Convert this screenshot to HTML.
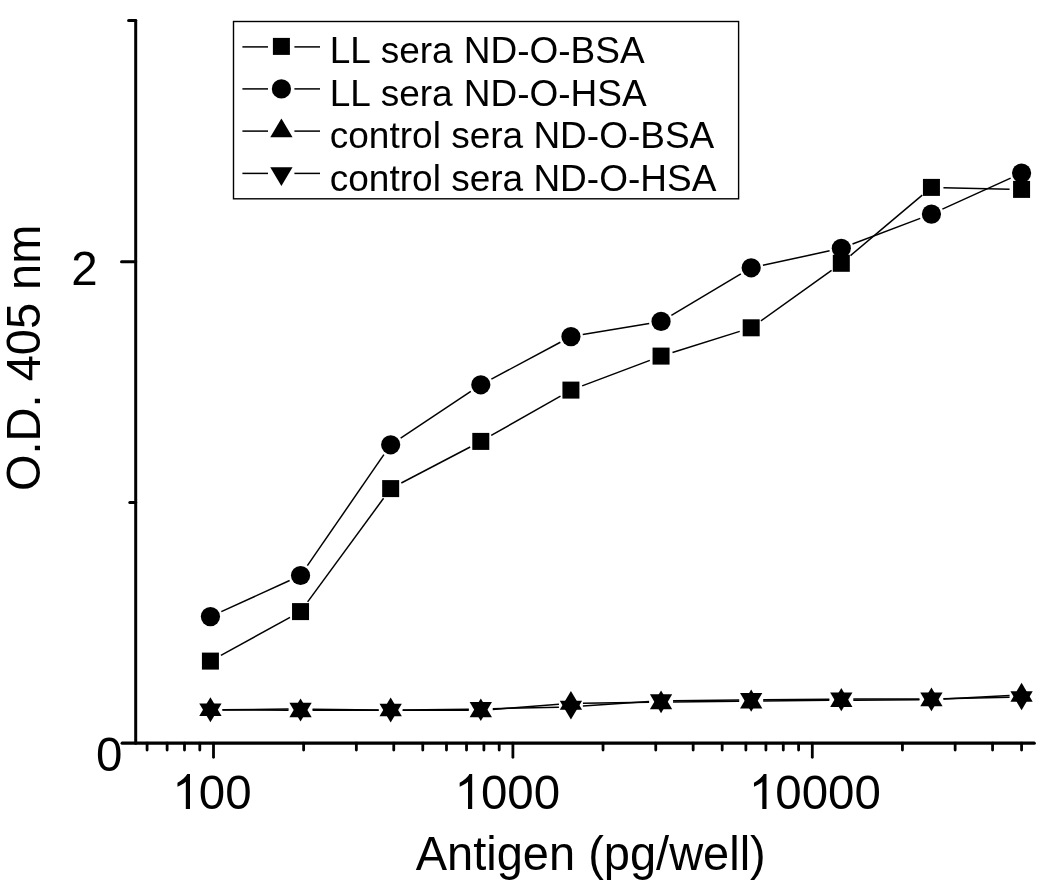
<!DOCTYPE html>
<html lang="en">
<head>
<meta charset="utf-8">
<title>ELISA O.D. 405 nm vs Antigen (pg/well)</title>
<style>
html,body{margin:0;padding:0;background:#fff;}
body{width:1050px;height:890px;overflow:hidden;font-family:"Liberation Sans",sans-serif;}
svg text{font-family:"Liberation Sans",sans-serif;}
</style>
</head>
<body>
<svg width="1050" height="890" viewBox="0 0 1050 890" style="display:block;filter:grayscale(1);font-family:'Liberation Sans',sans-serif" fill="#000">
<rect x="0" y="0" width="1050" height="890" fill="#fff"/>
<g stroke="#000" fill="none" stroke-linecap="round">
<line x1="135.7" y1="20.5" x2="135.7" y2="743.2" stroke-width="3.0"/>
<line x1="122.2" y1="743.2" x2="1034.2" y2="743.2" stroke-width="3.3"/>
<line x1="128.6" y1="20.50" x2="135.7" y2="20.50" stroke-width="3"/>
<line x1="121.5" y1="261.70" x2="135.7" y2="261.70" stroke-width="3"/>
<line x1="129.8" y1="502.60" x2="135.7" y2="502.60" stroke-width="3"/>
<line x1="147.08" y1="743.2" x2="147.08" y2="750.1" stroke-width="2.8"/>
<line x1="167.12" y1="743.2" x2="167.12" y2="750.1" stroke-width="2.8"/>
<line x1="184.49" y1="743.2" x2="184.49" y2="750.1" stroke-width="2.8"/>
<line x1="199.80" y1="743.2" x2="199.80" y2="750.1" stroke-width="2.8"/>
<line x1="303.63" y1="743.2" x2="303.63" y2="750.1" stroke-width="2.8"/>
<line x1="356.35" y1="743.2" x2="356.35" y2="750.1" stroke-width="2.8"/>
<line x1="393.76" y1="743.2" x2="393.76" y2="750.1" stroke-width="2.8"/>
<line x1="422.77" y1="743.2" x2="422.77" y2="750.1" stroke-width="2.8"/>
<line x1="446.48" y1="743.2" x2="446.48" y2="750.1" stroke-width="2.8"/>
<line x1="466.52" y1="743.2" x2="466.52" y2="750.1" stroke-width="2.8"/>
<line x1="483.89" y1="743.2" x2="483.89" y2="750.1" stroke-width="2.8"/>
<line x1="499.20" y1="743.2" x2="499.20" y2="750.1" stroke-width="2.8"/>
<line x1="603.03" y1="743.2" x2="603.03" y2="750.1" stroke-width="2.8"/>
<line x1="655.75" y1="743.2" x2="655.75" y2="750.1" stroke-width="2.8"/>
<line x1="693.16" y1="743.2" x2="693.16" y2="750.1" stroke-width="2.8"/>
<line x1="722.17" y1="743.2" x2="722.17" y2="750.1" stroke-width="2.8"/>
<line x1="745.88" y1="743.2" x2="745.88" y2="750.1" stroke-width="2.8"/>
<line x1="765.92" y1="743.2" x2="765.92" y2="750.1" stroke-width="2.8"/>
<line x1="783.29" y1="743.2" x2="783.29" y2="750.1" stroke-width="2.8"/>
<line x1="798.60" y1="743.2" x2="798.60" y2="750.1" stroke-width="2.8"/>
<line x1="902.43" y1="743.2" x2="902.43" y2="750.1" stroke-width="2.8"/>
<line x1="955.15" y1="743.2" x2="955.15" y2="750.1" stroke-width="2.8"/>
<line x1="992.56" y1="743.2" x2="992.56" y2="750.1" stroke-width="2.8"/>
<line x1="1021.57" y1="743.2" x2="1021.57" y2="750.1" stroke-width="2.8"/>
<line x1="213.50" y1="743.2" x2="213.50" y2="757.3" stroke-width="2.8"/>
<line x1="512.90" y1="743.2" x2="512.90" y2="757.3" stroke-width="2.8"/>
<line x1="812.30" y1="743.2" x2="812.30" y2="757.3" stroke-width="2.8"/>
</g>
<g stroke="#000" stroke-width="1.50" fill="none">
<line x1="220.93" y1="655.32" x2="290.03" y2="617.38"/>
<line x1="307.64" y1="601.92" x2="383.58" y2="498.28"/>
<line x1="401.30" y1="483.03" x2="470.17" y2="446.97"/>
<line x1="491.23" y1="435.46" x2="560.50" y2="396.04"/>
<line x1="582.16" y1="385.86" x2="649.83" y2="360.34"/>
<line x1="672.51" y1="352.51" x2="739.74" y2="331.39"/>
<line x1="760.94" y1="320.82" x2="831.56" y2="270.28"/>
<line x1="850.49" y1="255.57" x2="922.26" y2="195.13"/>
<line x1="943.44" y1="187.67" x2="1009.57" y2="189.13"/>
<line x1="221.33" y1="611.62" x2="289.63" y2="580.48"/>
<line x1="307.36" y1="565.62" x2="383.86" y2="454.68"/>
<line x1="400.66" y1="438.15" x2="470.81" y2="391.45"/>
<line x1="491.38" y1="379.14" x2="560.35" y2="342.26"/>
<line x1="582.76" y1="334.60" x2="649.23" y2="323.40"/>
<line x1="671.37" y1="315.27" x2="740.87" y2="273.93"/>
<line x1="762.92" y1="265.26" x2="829.59" y2="250.84"/>
<line x1="852.53" y1="244.04" x2="920.22" y2="218.36"/>
<line x1="942.37" y1="209.13" x2="1010.65" y2="178.07"/>
<line x1="222.42" y1="709.88" x2="288.54" y2="710.32"/>
<line x1="312.54" y1="710.36" x2="378.67" y2="710.14"/>
<line x1="402.67" y1="710.13" x2="468.80" y2="710.27"/>
<line x1="492.77" y1="709.38" x2="558.96" y2="704.32"/>
<line x1="582.93" y1="703.21" x2="649.06" y2="702.19"/>
<line x1="673.06" y1="701.88" x2="739.19" y2="701.22"/>
<line x1="763.19" y1="700.98" x2="829.32" y2="700.32"/>
<line x1="853.31" y1="700.13" x2="919.44" y2="699.77"/>
<line x1="943.43" y1="699.06" x2="1009.59" y2="695.54"/>
<line x1="222.42" y1="709.69" x2="288.55" y2="709.11"/>
<line x1="312.54" y1="709.15" x2="378.67" y2="709.95"/>
<line x1="402.67" y1="709.95" x2="468.80" y2="709.15"/>
<line x1="492.80" y1="708.72" x2="558.93" y2="707.18"/>
<line x1="582.90" y1="706.09" x2="649.09" y2="701.61"/>
<line x1="673.06" y1="700.68" x2="739.19" y2="700.02"/>
<line x1="763.19" y1="699.79" x2="829.32" y2="699.21"/>
<line x1="853.31" y1="699.07" x2="919.44" y2="698.93"/>
<line x1="943.44" y1="698.66" x2="1009.57" y2="697.34"/>
</g>
<g fill="#000" stroke="none">
<rect x="201.92" y="652.60" width="17.00" height="17.00"/>
<rect x="292.04" y="603.10" width="17.00" height="17.00"/>
<rect x="382.17" y="480.10" width="17.00" height="17.00"/>
<rect x="472.30" y="432.90" width="17.00" height="17.00"/>
<rect x="562.43" y="381.60" width="17.00" height="17.00"/>
<rect x="652.56" y="347.60" width="17.00" height="17.00"/>
<rect x="742.69" y="319.30" width="17.00" height="17.00"/>
<rect x="832.81" y="254.80" width="17.00" height="17.00"/>
<rect x="922.94" y="178.90" width="17.00" height="17.00"/>
<rect x="1013.07" y="180.90" width="17.00" height="17.00"/>
<circle cx="210.42" cy="616.60" r="9.60"/>
<circle cx="300.54" cy="575.50" r="9.60"/>
<circle cx="390.67" cy="444.80" r="9.60"/>
<circle cx="480.80" cy="384.80" r="9.60"/>
<circle cx="570.93" cy="336.60" r="9.60"/>
<circle cx="661.06" cy="321.40" r="9.60"/>
<circle cx="751.19" cy="267.80" r="9.60"/>
<circle cx="841.31" cy="248.30" r="9.60"/>
<circle cx="931.44" cy="214.10" r="9.60"/>
<circle cx="1021.57" cy="173.10" r="9.60"/>
<polygon points="210.42,697.17 199.27,715.97 221.57,715.97"/>
<polygon points="300.54,698.57 289.39,717.37 311.69,717.37"/>
<polygon points="390.67,697.47 379.52,716.27 401.82,716.27"/>
<polygon points="480.80,698.42 469.65,717.22 491.95,717.22"/>
<polygon points="570.93,690.97 559.78,709.77 582.08,709.77"/>
<polygon points="661.06,690.47 649.91,709.27 672.21,709.27"/>
<polygon points="751.19,689.62 740.04,708.42 762.34,708.42"/>
<polygon points="841.31,688.12 830.16,706.92 852.46,706.92"/>
<polygon points="931.44,687.42 920.29,706.22 942.59,706.22"/>
<polygon points="1021.57,682.87 1010.42,701.67 1032.72,701.67"/>
<polygon points="210.42,722.23 199.27,703.43 221.57,703.43"/>
<polygon points="300.54,721.43 289.39,702.63 311.69,702.63"/>
<polygon points="390.67,722.53 379.52,703.73 401.82,703.73"/>
<polygon points="480.80,720.88 469.65,702.08 491.95,702.08"/>
<polygon points="570.93,719.53 559.78,700.73 582.08,700.73"/>
<polygon points="661.06,713.13 649.91,694.33 672.21,694.33"/>
<polygon points="751.19,711.68 740.04,692.88 762.34,692.88"/>
<polygon points="841.31,711.18 830.16,692.38 852.46,692.38"/>
<polygon points="931.44,711.18 920.29,692.38 942.59,692.38"/>
<polygon points="1021.57,710.13 1010.42,691.33 1032.72,691.33"/>
</g>
<rect x="233.5" y="21.5" width="505.1" height="177.3" fill="#fff" stroke="#000" stroke-width="1.4"/>
<g stroke="#000" stroke-width="1.50">
<line x1="242.4" y1="46.90" x2="268.0" y2="46.90"/>
<line x1="294.4" y1="46.90" x2="320.0" y2="46.90"/>
<line x1="242.4" y1="88.90" x2="268.0" y2="88.90"/>
<line x1="294.4" y1="88.90" x2="320.0" y2="88.90"/>
<line x1="242.4" y1="131.10" x2="268.0" y2="131.10"/>
<line x1="294.4" y1="131.10" x2="320.0" y2="131.10"/>
<line x1="242.4" y1="173.40" x2="268.0" y2="173.40"/>
<line x1="294.4" y1="173.40" x2="320.0" y2="173.40"/>
</g>
<rect x="272.90" y="37.90" width="17.00" height="17.00"/>
<circle cx="281.40" cy="88.90" r="9.60"/>
<polygon points="281.40,118.57 270.25,137.37 292.55,137.37"/>
<polygon points="281.40,185.93 270.25,167.13 292.55,167.13"/>
<text x="329.8" y="63.20" font-size="37" word-spacing="0.8">LL sera ND-O-BSA</text>
<text x="329.8" y="105.65" font-size="37" word-spacing="0.8">LL sera ND-O-HSA</text>
<text x="329.8" y="148.10" font-size="37">control sera ND-O-BSA</text>
<text x="329.8" y="190.50" font-size="37">control sera ND-O-HSA</text>
<text transform="translate(71.20,285.20) scale(1,1.025)" font-size="47.50">2</text>
<text transform="translate(96.00,771.20) scale(1,1.025)" font-size="47.50">0</text>
<path transform="translate(172.30,808.90) scale(0.02319,-0.02377)" d="M763 0H583V1147Q518 1085 412.5 1023T223 930V1104Q373 1174.5 485 1275T644 1470H763Z"/>
<text transform="translate(198.72,808.90) scale(1,1.025)" font-size="47.50">00</text>
<path transform="translate(454.50,808.90) scale(0.02319,-0.02377)" d="M763 0H583V1147Q518 1085 412.5 1023T223 930V1104Q373 1174.5 485 1275T644 1470H763Z"/>
<text transform="translate(480.92,808.90) scale(1,1.025)" font-size="47.50">000</text>
<path transform="translate(748.80,808.90) scale(0.02319,-0.02377)" d="M763 0H583V1147Q518 1085 412.5 1023T223 930V1104Q373 1174.5 485 1275T644 1470H763Z"/>
<text transform="translate(775.22,808.90) scale(1,1.025)" font-size="47.50">0000</text>
<text transform="translate(415.7,870.1) scale(1,1.020)" font-size="47">Antigen (pg/well)</text>
<text transform="translate(39.9,491) rotate(-90) scale(1,1.035)" font-size="47">O.D. 405 nm</text>
</svg>
</body>
</html>
